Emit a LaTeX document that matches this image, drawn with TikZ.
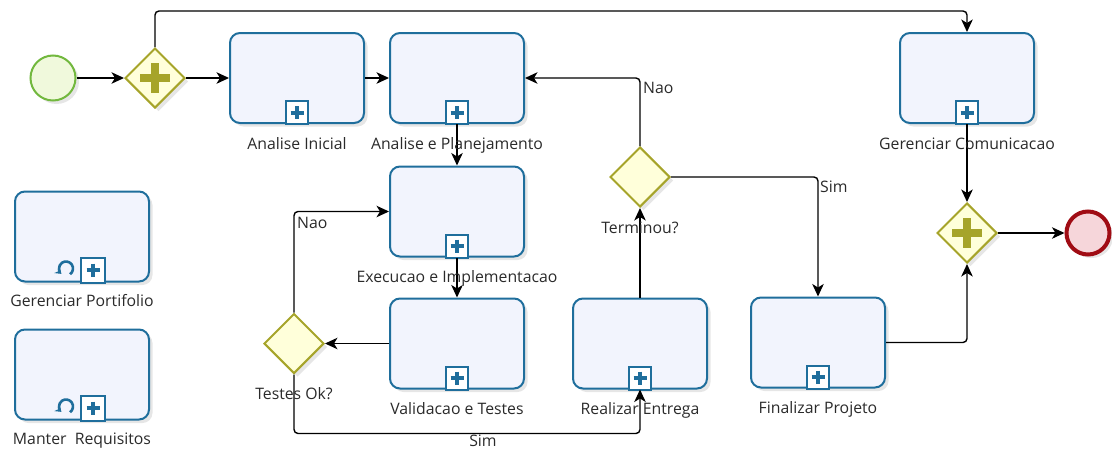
\documentclass[tikz,border=0pt]{standalone}
\usepackage{fontspec}
\setmainfont{Open Sans}
\usetikzlibrary{shapes.geometric,arrows.meta,shadows,calc}
\definecolor{taskc}{HTML}{1F6E9C}
\definecolor{taskf}{HTML}{F2F4FD}
\definecolor{gwc}{HTML}{A6A42A}
\definecolor{gwf}{HTML}{FFFFDA}
\definecolor{startc}{HTML}{72B83E}
\definecolor{startf}{HTML}{F0F9DC}
\definecolor{endc}{HTML}{A00C14}
\definecolor{endf}{HTML}{F6D6DA}
\definecolor{txt}{HTML}{2A2A2A}
\begin{document}
\begin{tikzpicture}[x=1pt,y=-1pt,
  shad/.style={drop shadow={opacity=0.2, shadow xshift=3.5pt, shadow yshift=-3.5pt}},
  task/.style={draw=taskc, line width=2pt, rounded corners=10pt, fill=taskf,
    minimum width=134pt, minimum height=90pt, inner sep=0pt, shad},
  gw/.style={diamond, draw=gwc, line width=2pt, fill=gwf, minimum width=60pt,
    minimum height=60pt, inner sep=0pt, shad},
  lbl/.style={font=\fontsize{15.8}{17}\selectfont, text=txt, inner sep=0pt, anchor=base},
  flow/.style={draw=black, line width=1.4pt, rounded corners=4pt,
    -{Stealth[length=12.5pt,width=11.5pt,inset=3.5pt]}},
  subm/.pic={
    \draw[taskc, line width=2pt, fill=white] (-11,0) rectangle (11,-23);
    \draw[taskc, line width=4pt] (-6.5,-11.5) -- (6.5,-11.5) (0,-18) -- (0,-5);},
  loopm/.pic={
    \draw[taskc, line width=2pt, fill=white] (-1,0) rectangle (23,-25);
    \draw[taskc, line width=4pt] (4.5,-12.5) -- (17.5,-12.5) (11,-19) -- (11,-6);
    \draw[taskc, line width=2.6pt, -{Stealth[length=6pt,width=8pt]}]
      (-16,-14) ++(55:7) arc[start angle=55, end angle=-230, radius=7];},
  gwplus/.pic={
    \fill[gwc] (-15,-4.2) rectangle (15,4.2);
    \fill[gwc] (-4.2,-15) rectangle (4.2,15);},
]
\useasboundingbox (0,0) rectangle (1112,450);

% events and gateways
\node[circle, draw=startc, line width=2pt, fill=startf, minimum size=45pt, inner sep=0pt, shad] (start) at (53,78) {};
\node[gw] (g1) at (155,78) {};
\path (g1) pic {gwplus};
\node[gw] (te) at (640,177) {};
\node[gw] (to) at (294,343.5) {};
\node[gw] (g2) at (967,233) {};
\path (g2) pic {gwplus};
\node[circle, draw=endc, line width=4pt, fill=endf, minimum size=43pt, inner sep=0pt, shad] (end) at (1088,233) {};

% tasks
\node[task] (ai) at (297,78) {};
\node[task] (ap) at (457,78) {};
\node[task] (ex) at (457,211.5) {};
\node[task] (va) at (457,343.5) {};
\node[task] (re) at (640,343.5) {};
\node[task] (fp) at (818,342.5) {};
\node[task] (gc) at (967,78) {};
\node[task] (gp) at (82,236.5) {};
\node[task] (mr) at (82,374.5) {};
\foreach \t in {ai,ap,ex,va,re,fp,gc} { \path (\t.south) pic {subm}; }
\path (gp.south) pic {loopm};
\path (mr.south) pic {loopm};

% flows
\draw[flow] (start) -- (g1);
\draw[flow] (g1) -- (ai);
\draw[flow] (g1.north) -- ++(0,-36) -| (gc.north);
\draw[flow] (ai) -- (ap);
\draw[flow] (ap) -- (ex);
\draw[flow] (ex) -- (va);
\draw[flow] (va) -- (to);
\draw[flow] (to.north) |- (ex.west);
\draw[flow] (to.south) -- ++(0,59) -| (re.south);
\draw[flow] (re) -- (te);
\draw[flow] (te.north) |- (ap.east);
\draw[flow] (te.east) -| (fp.north);
\draw[flow] (gc) -- (g2);
\draw[flow] (fp.east) -| (g2.south);
\draw[flow] (g2) -- (end);

% labels
\node[lbl] (ail) at ($(ai.south)+(0,25)$) {Analise Inicial};
\node[lbl] (apl) at ($(ap.south)+(0,25)$) {Analise e Planejamento};
\node[lbl] (exl) at ($(ex.south)+(0,25)$) {Execucao e Implementacao};
\node[lbl] (val) at ($(va.south)+(0,25)$) {Validacao e Testes};
\node[lbl] (rel) at ($(re.south)+(0,25)$) {Realizar Entrega};
\node[lbl] (fpl) at ($(fp.south)+(0,25)$) {Finalizar Projeto};
\node[lbl] (gcl) at ($(gc.south)+(0,25)$) {Gerenciar Comunicacao};
\node[lbl] (gpl) at ($(gp.south)+(0,24)$) {Gerenciar Portifolio};
\node[lbl] (mrl) at ($(mr.south)+(0,24)$) {Manter\ \ Requisitos};
\node[lbl] (tel) at ($(te.south)+(0,25)$) {Terminou?};
\node[lbl] (tol) at ($(to.south)+(0,25)$) {Testes Ok?};
\node[lbl, anchor=base west] (n1) at (297,228) {Nao};
\node[lbl] (s1) at (483,446) {Sim};
\node[lbl, anchor=base west] (n2) at (643,93) {Nao};
\node[lbl, anchor=base west] (s2) at (820,192) {Sim};
\end{tikzpicture}
\end{document}
